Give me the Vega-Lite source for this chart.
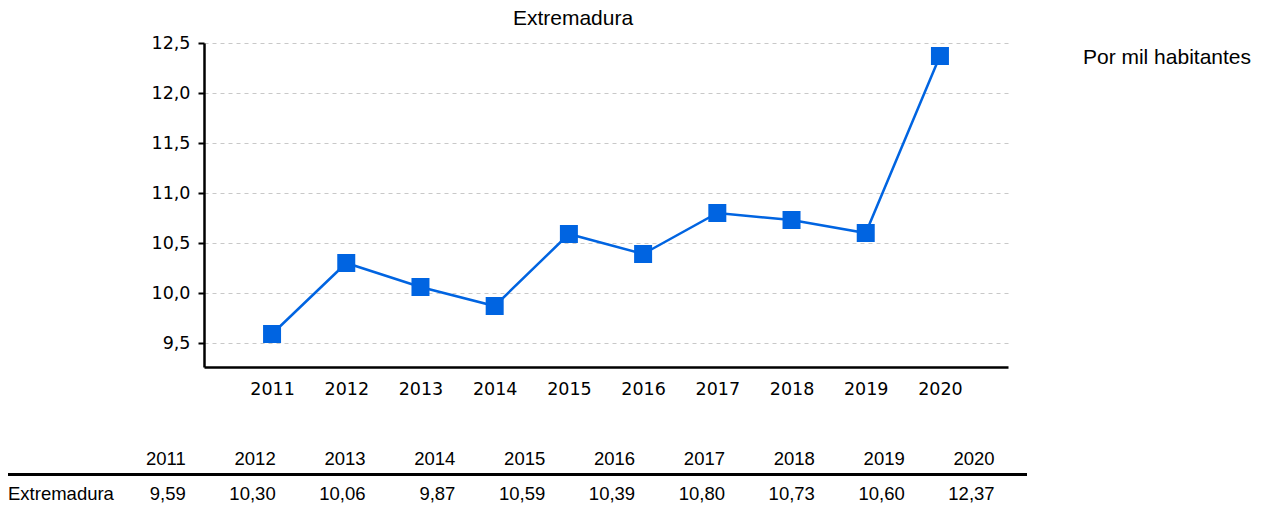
{
  "$schema": "https://vega.github.io/schema/vega-lite/v6.json",
  "padding": {"left": 6, "top": 8, "right": 0, "bottom": 0},
  "background": "white",
  "config": {
    "view": {"stroke": null},
    "font": "Liberation Sans",
    "locale": {"number": {"decimal": ",", "thousands": ".", "grouping": [3], "currency": ["", " €"]}}
  },
  "datasets": {
    "tasa": [
      {"anio": 2011, "region": "Extremadura", "valor": 9.59},
      {"anio": 2012, "region": "Extremadura", "valor": 10.30},
      {"anio": 2013, "region": "Extremadura", "valor": 10.06},
      {"anio": 2014, "region": "Extremadura", "valor": 9.87},
      {"anio": 2015, "region": "Extremadura", "valor": 10.59},
      {"anio": 2016, "region": "Extremadura", "valor": 10.39},
      {"anio": 2017, "region": "Extremadura", "valor": 10.80},
      {"anio": 2018, "region": "Extremadura", "valor": 10.73},
      {"anio": 2019, "region": "Extremadura", "valor": 10.60},
      {"anio": 2020, "region": "Extremadura", "valor": 12.37}
    ]
  },
  "bounds": "flush",
  "spacing": 75,
  "vconcat": [
    {
      "width": 804,
      "height": 324,
      "title": {
        "text": "Extremadura",
        "font": "Liberation Sans",
        "fontSize": 21,
        "fontWeight": "normal",
        "color": "black",
        "anchor": "middle",
        "frame": "group",
        "baseline": "alphabetic",
        "dx": -33,
        "offset": -12
      },
      "layer": [
        {
          "data": {"name": "tasa"},
          "mark": {"type": "line", "color": "#0064E1", "strokeWidth": 2.5},
          "encoding": {
            "x": {
              "field": "anio", "type": "ordinal",
              "scale": {"type": "point", "padding": 0.917},
              "axis": {
                "title": null, "labelAngle": 0, "ticks": false,
                "domainColor": "black", "domainWidth": 2.5,
                "labelFont": "DejaVu Sans", "labelFontSize": 17.5, "labelColor": "black",
                "labelPadding": 13.5, "grid": false
              }
            },
            "y": {
              "field": "valor", "type": "quantitative",
              "scale": {"domain": [9.26, 12.5], "nice": false, "zero": false},
              "axis": {
                "title": null, "values": [9.5, 10, 10.5, 11, 11.5, 12, 12.5], "format": ".1f",
                "domainColor": "black", "domainWidth": 2.5,
                "tickColor": "black", "tickWidth": 2, "tickSize": 6,
                "labelFont": "DejaVu Sans", "labelFontSize": 17.5, "labelColor": "black",
                "labelPadding": 8,
                "grid": true, "gridColor": "#c8c8c8", "gridDash": [4, 4], "gridWidth": 1
              }
            }
          }
        },
        {
          "data": {"name": "tasa"},
          "mark": {"type": "point", "shape": "square", "filled": true, "size": 324, "color": "#0064E1", "opacity": 1},
          "encoding": {
            "x": {"field": "anio", "type": "ordinal"},
            "y": {"field": "valor", "type": "quantitative"}
          }
        },
        {
          "data": {"values": [{"unidad": "Por mil habitantes"}]},
          "mark": {"type": "text", "align": "left", "baseline": "alphabetic", "font": "Liberation Sans", "fontSize": 21, "color": "black", "dx": 143, "dy": 21},
          "encoding": {
            "x": {"datum": 2020, "type": "ordinal"},
            "y": {"datum": 12.5, "type": "quantitative"},
            "text": {"field": "unidad"}
          }
        }
      ]
    },
    {
      "width": 823,
      "height": 69,
      "layer": [
        {
          "data": {"name": "tasa"},
          "mark": {"type": "text", "align": "right", "baseline": "middle", "font": "Liberation Sans", "fontSize": 18.5, "color": "black"},
          "encoding": {
            "x": {"field": "anio", "type": "quantitative", "scale": {"domain": [2011.2025, 2020.3602], "nice": false, "zero": false}, "axis": null},
            "y": {"datum": "cabecera", "type": "nominal", "scale": {"type": "band", "domain": ["cabecera", "Extremadura"], "paddingInner": 0, "paddingOuter": 0}, "axis": null},
            "text": {"field": "anio", "type": "nominal"}
          }
        },
        {
          "data": {"name": "tasa"},
          "mark": {"type": "text", "align": "right", "baseline": "middle", "font": "Liberation Sans", "fontSize": 18.5, "color": "black"},
          "encoding": {
            "x": {"field": "anio", "type": "quantitative"},
            "y": {"field": "region", "type": "nominal"},
            "text": {"field": "valor", "type": "quantitative", "format": ".2f"}
          }
        },
        {
          "data": {"values": [{"region": "Extremadura"}]},
          "mark": {"type": "text", "align": "left", "baseline": "middle", "font": "Liberation Sans", "fontSize": 18.5, "color": "black"},
          "encoding": {
            "x": {"datum": 2009.0216, "type": "quantitative"},
            "y": {"field": "region", "type": "nominal"},
            "text": {"field": "region"}
          }
        },
        {
          "data": {"values": [{}]},
          "mark": {"type": "rule", "color": "black", "strokeWidth": 3},
          "encoding": {
            "x": {"datum": 2009.0216, "type": "quantitative"},
            "x2": {"datum": 2020.3602},
            "y": {"datum": "cabecera", "type": "nominal", "bandPosition": 0.94}
          }
        }
      ]
    }
  ]
}
